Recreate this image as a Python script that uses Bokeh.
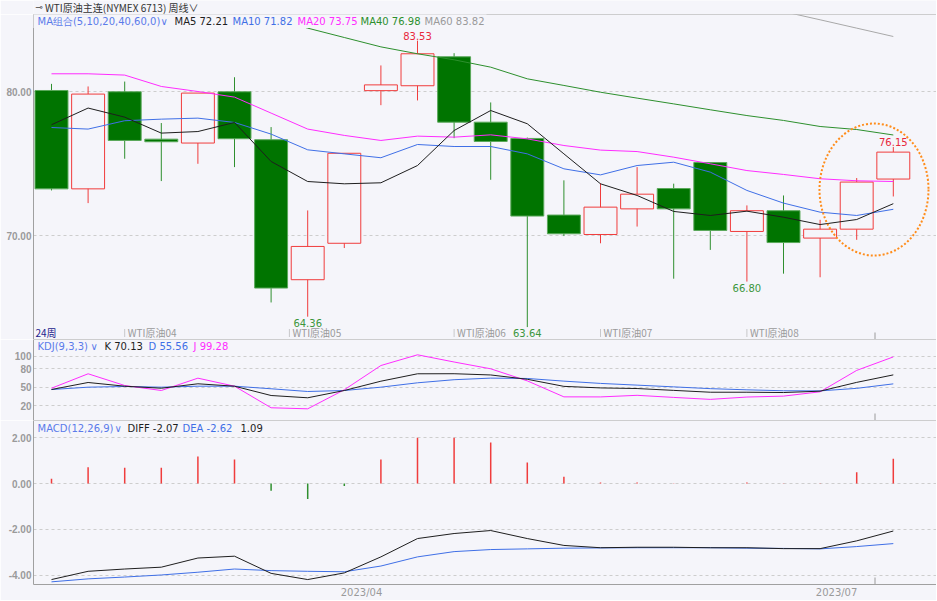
from bokeh.plotting import figure
from bokeh.layouts import column
from bokeh.models import (Range1d, FixedTicker, NumeralTickFormatter, Span,
                          BoxAnnotation, Label, ColumnDataSource)
from bokeh.embed import file_html
from bokeh.resources import INLINE
from bokeh.core.properties import value

# ---------------- data ----------------
week_idx = list(range(24))
open_p = [80.07, 73.24, 79.98, 76.69, 76.42, 79.98, 76.65, 66.93, 69.46, 80.06, 80.40, 82.41,
          77.87, 76.74, 71.42, 70.07, 71.85, 73.26, 75.07, 70.28, 71.72, 69.82, 70.44, 73.92]
high_p = [80.53, 80.35, 80.69, 77.81, 79.89, 80.99, 77.53, 71.74, 75.71, 81.81, 83.53, 82.66,
          79.24, 76.80, 73.83, 73.63, 74.75, 73.60, 75.07, 72.09, 72.78, 71.09, 73.99, 76.15]
low_p = [73.13, 72.25, 75.33, 73.78, 74.98, 74.75, 65.35, 64.36, 69.13, 79.05, 79.38, 76.76,
         73.87, 63.64, 69.96, 69.46, 70.62, 67.00, 69.00, 66.80, 67.35, 67.10, 69.70, 72.71]
close_p = [73.24, 79.82, 76.60, 76.51, 79.89, 76.72, 66.35, 69.24, 75.71, 80.46, 82.62, 77.87,
           76.53, 71.35, 70.12, 71.97, 72.87, 71.85, 70.35, 71.72, 69.51, 70.44, 73.71, 75.79]

ma5 = [77.69, 78.85, 78.22, 77.11, 77.22, 77.85, 75.14, 73.75, 73.59, 73.66, 74.86, 77.29,
       78.68, 77.76, 75.67, 73.59, 72.78, 71.67, 71.39, 71.69, 71.27, 70.76, 71.11, 72.21]
ma10 = [77.50, 77.39, 77.97, 78.08, 78.15, 77.85, 77.04, 75.95, 75.67, 75.40, 76.32, 76.18,
        76.18, 75.67, 74.63, 74.21, 74.86, 75.09, 74.40, 73.13, 72.25, 71.62, 71.39, 71.82]
ma20 = [81.23, 81.23, 81.14, 80.35, 80.00, 79.61, 78.50, 77.39, 76.95, 76.60, 76.90, 76.83,
        76.99, 76.71, 76.25, 75.93, 75.83, 75.44, 74.98, 74.51, 74.24, 73.94, 73.80, 73.75]
ma40 = [88.20, 87.70, 87.20, 86.70, 86.20, 85.70, 85.10, 84.40, 83.75, 83.10, 82.62, 82.20,
        81.69, 80.88, 80.42, 79.95, 79.54, 79.14, 78.73, 78.33, 77.99, 77.57, 77.36, 76.98]
ma60 = [89.90, 89.50, 89.20, 88.90, 88.60, 88.30, 88.00, 87.80, 87.60, 87.40, 87.30, 87.20,
        87.00, 86.90, 86.80, 86.60, 86.40, 86.20, 86.00, 85.80, 85.55, 84.98, 84.40, 83.82]

k_vals = [46.4, 57.8, 51.8, 48.5, 55.7, 51.8, 36.7, 33.0, 44.8, 59.9, 71.9, 72.0,
          70.0, 63.0, 51.5, 49.0, 48.0, 45.0, 42.0, 42.0, 41.5, 43.7, 58.0, 70.13]
d_vals = [46.4, 50.2, 51.3, 50.2, 51.8, 51.8, 47.6, 43.2, 44.8, 50.2, 57.3, 62.3,
          64.9, 64.3, 60.0, 56.3, 53.5, 50.7, 47.8, 45.9, 44.4, 44.2, 48.3, 55.56]
j_vals = [48.5, 71.9, 52.9, 44.8, 64.8, 51.8, 16.8, 15.1, 46.0, 85.3, 102.7, 91.0,
          80.0, 60.4, 34.5, 34.4, 37.0, 33.6, 30.4, 34.2, 35.7, 42.7, 77.4, 99.28]

diff_vals = [-4.19, -3.83, -3.73, -3.65, -3.25, -3.17, -3.92, -4.19, -3.90, -3.20, -2.40, -2.18,
             -2.05, -2.40, -2.70, -2.80, -2.78, -2.78, -2.80, -2.80, -2.84, -2.84, -2.50, -2.07]
dea_vals = [-4.29, -4.16, -4.08, -3.99, -3.87, -3.73, -3.80, -3.83, -3.85, -3.60, -3.20, -2.97,
            -2.88, -2.85, -2.82, -2.81, -2.80, -2.80, -2.80, -2.82, -2.83, -2.85, -2.75, -2.62]
macd_hist = [0.21, 0.71, 0.69, 0.69, 1.18, 1.05, -0.31, -0.67, -0.10, 1.05, 2.00, 2.00,
             1.80, 0.92, 0.30, 0.05, 0.05, 0.02, 0.00, 0.05, 0.02, 0.02, 0.50, 1.09]

high_marks = [10, 23]
low_marks = [7, 13, 19]
contract_pos = [2.0, 6.5, 11.0, 15.0, 19.0]
contract_labels = ["WTI原油04", "WTI原油05", "WTI原油06", "WTI原油07", "WTI原油08"]
date_pos = [8.47, 21.45]
date_labels = ["2023/04", "2023/07"]
month_mark = [22.5]
main_ticks = [70, 80]
kdj_ticks = [20, 50, 80, 100]
macd_ticks = [-4, -2, 0, 2]

# ---------------- styling / layout ----------------
BG = "#f5f5fa"
AXC = "#a0a0a0"
UP_COL = "#f03c3c"
DN_FILL = "#007400"
DN_EDGE = "#5aa85a"
DN_WICK = "#2f8f2f"
BLACK = "#1e1e1e"
BLUE = "#3f6fe6"
LBLUE = "#5b7bea"
MAG = "#ff2cff"
GREEN = "#2d8f2d"
GRAY = "#9a9a9a"
HI_RED = "#e8283c"
LO_GREEN = "#3c963c"

LEFT = 33          # page x of frame left
FW = 903           # frame width
X0_PAGE = 51.0     # page x of first candle
DX = 36.6          # px per candle
XS = (LEFT - X0_PAGE) / DX
XE = (LEFT + FW - X0_PAGE) / DX
xr = Range1d(XS, XE)


def xi(px):
    return (px - X0_PAGE) / DX


# main panel: page y 14..339, 80 at y 91, 14.4 px / unit
def pm(py):
    return 80 + (91 - py) / 14.4


M_TOP, M_BOT = pm(14), pm(339)

# KDJ panel: page y 339..420, 100 at y 356, 20 at y 405.3
def pk(py):
    return 20 + (405.3 - py) / 0.6167


K_TOP, K_BOT = pk(339), pk(420)

# MACD panel: page y 420..584, 2.00 at y 437.3, 22.9 px / unit
def pd(py):
    return 2 + (437.3 - py) / 22.9


D_TOP, D_BOT = pd(420), pd(584)


def make_panel(fh, yr, with_x=False):
    p = figure(frame_width=FW, frame_height=fh, x_range=xr, y_range=yr,
               output_backend="svg", toolbar_location=None, tools="",
               min_border_left=LEFT, min_border_right=0, min_border_top=0,
               min_border_bottom=(16 if with_x else 0),
               x_axis_type=("linear" if with_x else None),
               background_fill_color=BG, border_fill_color=BG,
               outline_line_color=None)
    return p


def style_y(p, ticks, fmt):
    ax = p.yaxis[0]
    t = FixedTicker(ticks=ticks)
    ax.ticker = t
    ax.formatter = NumeralTickFormatter(format=fmt)
    ax.axis_line_color = AXC
    ax.major_tick_line_color = None
    ax.minor_tick_line_color = None
    ax.major_tick_out = 0
    ax.major_tick_in = 0
    ax.major_label_text_font = "Liberation Sans"
    ax.major_label_text_font_size = "10px"
    ax.major_label_text_font_style = "bold"
    ax.major_label_text_color = GRAY
    ax.major_label_standoff = 2
    p.ygrid.ticker = t
    p.ygrid.grid_line_color = "#cdcdcd"
    p.ygrid.grid_line_dash = "3 3"


def legend(p, items, y):
    for txt, px, col in items:
        p.add_layout(Label(x=xi(px), y=y, text=txt, text_color=col,
                           text_font="DejaVu Sans", text_font_size="10px",
                           text_baseline="middle", text_align="left"))


def fmt(v):
    return f"{v:.2f}"


TXT = dict(text_font=value("DejaVu Sans"), text_font_size=value("10px"))

# ---------------- header ----------------
hdr = figure(width=LEFT + FW, height=14, x_range=Range1d(0, LEFT + FW), y_range=Range1d(0, 14),
             x_axis_type=None, y_axis_type=None, output_backend="svg",
             toolbar_location=None, tools="", min_border=0,
             background_fill_color=BG, border_fill_color=BG, outline_line_color=None)
hdr.text(x=[2], y=[7.5], text=["⊸"], text_color="#444", text_baseline="middle",
         text_font=value("DejaVu Sans"), text_font_size=value("9px"))
hdr.text(x=[12], y=[7.5], text=["WTI原油主连(NYMEX 6713)"], text_color="#333",
         text_baseline="middle", text_font=value("Noto Sans CJK SC"), text_font_size=value("10px"))
hdr.text(x=[140], y=[7.5], text=["周线∨"], text_color="#333",
         text_baseline="middle", text_font=value("Noto Sans CJK SC"), text_font_size=value("10px"))

# ---------------- main panel ----------------
pmain = make_panel(325, Range1d(M_BOT, M_TOP))
style_y(pmain, main_ticks, "0.00")

up = [c >= o for o, c in zip(open_p, close_p)]
src = ColumnDataSource(dict(
    x=week_idx, h=high_p, l=low_p,
    top=[max(o, c) for o, c in zip(open_p, close_p)],
    bot=[min(o, c) for o, c in zip(open_p, close_p)],
    fill=[BG if u else DN_FILL for u in up],
    edge=[UP_COL if u else DN_EDGE for u in up],
    wick=[UP_COL if u else DN_WICK for u in up]))
pmain.segment(x0="x", y0="l", x1="x", y1="h", line_color="wick", line_width=1, source=src)
pmain.vbar(x="x", width=0.9, top="top", bottom="bot", fill_color="fill",
           line_color="edge", line_width=1, source=src)

for arr, col in [(ma60, "#a8a8a8"), (ma40, GREEN), (ma20, MAG), (ma10, BLUE), (ma5, BLACK)]:
    pmain.line(week_idx, arr, line_color=col, line_width=1)

# highlight ellipse around the last two weeks
pmain.ellipse(x=[xi(873.5)], y=[pm(189)], width=109, height=132,
              width_units="screen", height_units="screen",
              fill_color=None, line_color="#ff8c1a", line_width=2, line_dash="2 2")

# extreme value markers
pmain.text(x=high_marks, y=[high_p[i] for i in high_marks],
           text=[fmt(high_p[i]) for i in high_marks], text_color=HI_RED,
           text_align="center", text_baseline="bottom", y_offset=-1, level="overlay", **TXT)
pmain.text(x=low_marks, y=[low_p[i] for i in low_marks],
           text=[fmt(low_p[i]) for i in low_marks], text_color=LO_GREEN,
           text_align="center", text_baseline="top", y_offset=2, level="overlay", **TXT)

# contract roll labels along the bottom
pmain.segment(x0=contract_pos, y0=[pm(336)] * len(contract_pos), x1=contract_pos,
              y1=[pm(328)] * len(contract_pos), line_color=GRAY, line_dash="1 1")
pmain.text(x=contract_pos, y=[pm(332)] * len(contract_pos), text=contract_labels,
           text_color=GRAY, text_baseline="middle", x_offset=3,
           text_font=value("Noto Sans CJK SC"), text_font_size=value("10px"))
pmain.text(x=[xi(35)], y=[pm(332)], text=["24周"], text_color="#22228c",
           text_baseline="middle", text_font=value("Noto Sans CJK SC"),
           text_font_size=value("10px"))
pmain.segment(x0=month_mark, y0=[M_BOT], x1=month_mark, y1=[pm(332)], line_color=GRAY)

pmain.add_layout(Span(location=M_TOP, dimension="width", line_color=AXC, line_width=1))
pmain.add_layout(BoxAnnotation(left=XS - 1, right=xi(486), bottom=pm(27.5), top=M_TOP + 1,
                               fill_color=BG, fill_alpha=1.0, line_color=None))
legend(pmain, [
    ("MA组合(5,10,20,40,60,0)", 37, LBLUE), ("∨", 160, LBLUE),
    ("MA5 " + fmt(ma5[-1]), 174, BLACK), ("MA10 " + fmt(ma10[-1]), 232, BLUE),
    ("MA20 " + fmt(ma20[-1]), 297, MAG), ("MA40 " + fmt(ma40[-1]), 360, GREEN),
    ("MA60 " + fmt(ma60[-1]), 424, GRAY)], pm(21))

# ---------------- KDJ panel ----------------
pkdj = make_panel(81, Range1d(K_BOT, K_TOP))
style_y(pkdj, kdj_ticks, "0")
pkdj.line(week_idx, d_vals, line_color=BLUE, line_width=1)
pkdj.line(week_idx, j_vals, line_color=MAG, line_width=1)
pkdj.line(week_idx, k_vals, line_color=BLACK, line_width=1)
pkdj.segment(x0=month_mark, y0=[K_BOT], x1=month_mark, y1=[pk(413)], line_color=GRAY)
pkdj.add_layout(Span(location=K_TOP, dimension="width", line_color=AXC, line_width=1))
legend(pkdj, [
    ("KDJ(9,3,3)", 37, LBLUE), ("∨", 90, LBLUE),
    ("K " + fmt(k_vals[-1]), 104, BLACK), ("D " + fmt(d_vals[-1]), 148, BLUE),
    ("J " + fmt(j_vals[-1]), 193, MAG)], pk(346))

# ---------------- MACD panel ----------------
pmacd = make_panel(164, Range1d(D_BOT, D_TOP), with_x=True)
style_y(pmacd, macd_ticks, "0.00")
pmacd.xgrid.visible = False
xa = pmacd.xaxis[0]
xa.ticker = FixedTicker(ticks=date_pos)
xa.major_label_overrides = {p: l for p, l in zip(date_pos, date_labels)}
xa.axis_line_color = AXC
xa.major_tick_line_color = None
xa.minor_tick_line_color = None
xa.major_tick_out = 0
xa.major_tick_in = 0
xa.major_label_standoff = 2
xa.major_label_text_font = "DejaVu Sans"
xa.major_label_text_font_size = "10px"
xa.major_label_text_color = GRAY

hist_col = [UP_COL if v >= 0 else DN_WICK for v in macd_hist]
pmacd.segment(x0=week_idx, y0=[0] * len(week_idx), x1=week_idx, y1=macd_hist,
              line_color=hist_col, line_width=1.5)
pmacd.line(week_idx, dea_vals, line_color=BLUE, line_width=1)
pmacd.line(week_idx, diff_vals, line_color=BLACK, line_width=1)
pmacd.segment(x0=month_mark, y0=[D_BOT], x1=month_mark, y1=[pd(577)], line_color=GRAY)
pmacd.add_layout(Span(location=D_TOP, dimension="width", line_color=AXC, line_width=1))
legend(pmacd, [
    ("MACD(12,26,9)", 37, LBLUE), ("∨", 114, LBLUE),
    ("DIFF " + fmt(diff_vals[-1]), 127, BLACK), ("DEA " + fmt(dea_vals[-1]), 182, BLUE),
    (fmt(macd_hist[-1]), 240, BLACK)], pd(427.5))

layout = column(hdr, pmain, pkdj, pmacd, spacing=0)
open("out.html", "w").write(file_html(layout, INLINE))
